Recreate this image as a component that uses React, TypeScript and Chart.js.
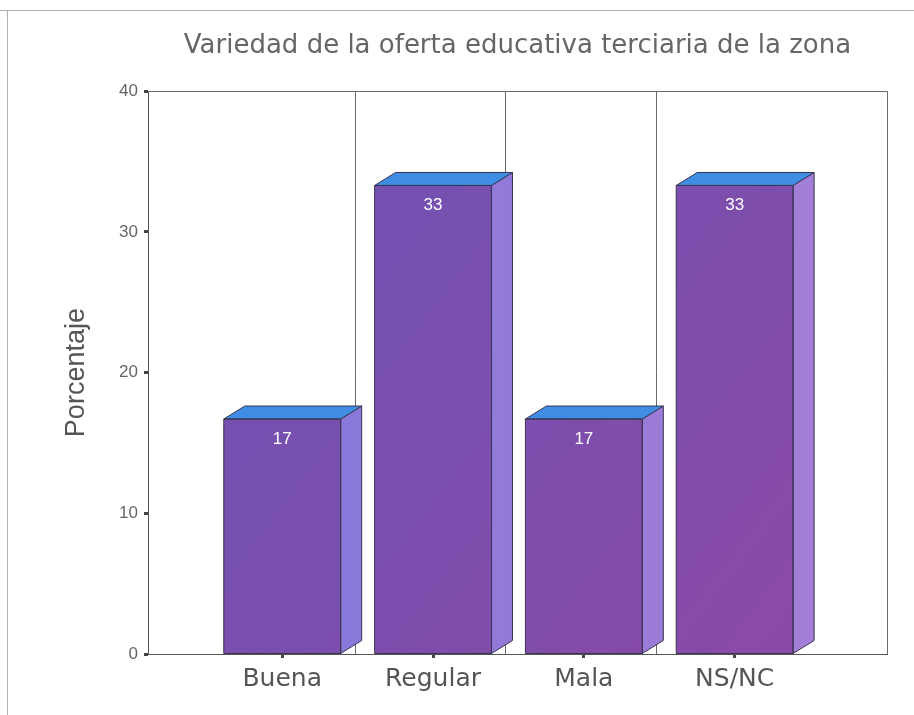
import React, { useEffect, useRef } from "react";
import { Chart, registerables } from "chart.js";

Chart.register(...registerables);

const categories = ["Buena", "Regular", "Mala", "NS/NC"];
const percentages = [16.7, 33.3, 16.7, 33.3];
const valueLabels = ["17", "33", "17", "33"];
const yTicks = [0, 10, 20, 30, 40];
const chartTitle = "Variedad de la oferta educativa terciaria de la zona";
const yTitle = "Porcentaje";

const VERDANA = "'DejaVu Sans', Verdana, sans-serif";
const ARIAL = "'Liberation Sans', Arial, sans-serif";

const DEPTH_X = 21;
const DEPTH_Y = 13;

function frontGradient(chart: any) {
  const { ctx, chartArea } = chart;
  if (!chartArea) return "#7a50ae";
  const g = ctx.createLinearGradient(chartArea.left, chartArea.top, chartArea.right, chartArea.bottom);
  g.addColorStop(0, "#6e52b4");
  g.addColorStop(0.5, "#7b4fae");
  g.addColorStop(1, "#8e48a6");
  return g;
}

const threeD = {
  id: "threeD",
  beforeDraw(chart: any) {
    const { ctx, width } = chart;
    ctx.save();
    ctx.strokeStyle = "#b0b0b0";
    ctx.lineWidth = 1;
    ctx.beginPath();
    ctx.moveTo(0, 10.5);
    ctx.lineTo(width, 10.5);
    ctx.moveTo(7.5, 10);
    ctx.lineTo(7.5, chart.height);
    ctx.stroke();
    ctx.restore();
  },
  beforeDatasetsDraw(chart: any) {
    const { ctx, chartArea, scales } = chart;
    const x = scales.x;
    ctx.save();
    ctx.strokeStyle = "#6a6a6a";
    ctx.lineWidth = 1;
    ctx.beginPath();
    ctx.moveTo(chartArea.left, Math.round(chartArea.top) + 0.5);
    ctx.lineTo(Math.round(chartArea.right) + 0.5, Math.round(chartArea.top) + 0.5);
    ctx.lineTo(Math.round(chartArea.right) + 0.5, chartArea.bottom);
    for (let i = 0; i < categories.length - 1; i++) {
      const px = Math.round(x.getPixelForValue(i + 0.48)) + 0.5;
      ctx.moveTo(px, chartArea.top);
      ctx.lineTo(px, chartArea.bottom);
    }
    ctx.stroke();
    ctx.restore();
  },
  afterDatasetsDraw(chart: any) {
    const { ctx, chartArea } = chart;
    const meta = chart.getDatasetMeta(0);
    const sideGrad = ctx.createLinearGradient(chartArea.left, 0, chartArea.right, 0);
    sideGrad.addColorStop(0, "#7e74dc");
    sideGrad.addColorStop(1, "#a880d6");
    meta.data.forEach((bar: any, i: number) => {
      const { x, y, base, width } = bar.getProps(["x", "y", "base", "width"], true);
      const l = x - width / 2;
      const r = x + width / 2;
      ctx.save();
      ctx.lineWidth = 1;
      ctx.strokeStyle = "#3a3450";
      ctx.lineJoin = "round";
      // side face
      ctx.beginPath();
      ctx.moveTo(r, y);
      ctx.lineTo(r + DEPTH_X, y - DEPTH_Y);
      ctx.lineTo(r + DEPTH_X, base - DEPTH_Y);
      ctx.lineTo(r, base);
      ctx.closePath();
      ctx.fillStyle = sideGrad;
      ctx.fill();
      ctx.stroke();
      // top face
      ctx.beginPath();
      ctx.moveTo(l, y);
      ctx.lineTo(l + DEPTH_X, y - DEPTH_Y);
      ctx.lineTo(r + DEPTH_X, y - DEPTH_Y);
      ctx.lineTo(r, y);
      ctx.closePath();
      ctx.fillStyle = "#3f8de4";
      ctx.fill();
      ctx.stroke();
      // front outline
      ctx.strokeRect(l, y, width, base - y);
      // value label
      ctx.fillStyle = "#ffffff";
      ctx.font = `17px ${ARIAL}`;
      ctx.textAlign = "center";
      ctx.textBaseline = "middle";
      ctx.fillText(valueLabels[i], x, y + 20);
      ctx.restore();
    });
  },
};

export default function App() {
  const ref = useRef<HTMLCanvasElement>(null);
  useEffect(() => {
    document.body.style.margin = "0";
    const canvas = ref.current;
    if (!canvas) return;
    const chart = new Chart(canvas, {
      type: "bar",
      data: {
        datasets: [
          {
            data: percentages.map((v, i) => ({ x: i, y: v })),
            backgroundColor: (c: any) => frontGradient(c.chart),
            borderWidth: 0,
            categoryPercentage: 1,
            barPercentage: 0.775,
          },
        ],
      },
      options: {
        animation: false,
        responsive: false,
        devicePixelRatio: 1,
        layout: { padding: { left: 0, right: 27, top: 0, bottom: 0 } },
        plugins: {
          legend: { display: false },
          tooltip: { enabled: false },
          title: {
            display: true,
            text: chartTitle,
            fullSize: false,
            color: "#666666",
            font: { family: VERDANA, size: 26, weight: "normal" },
            padding: { top: 31, bottom: 29 },
          },
        },
        scales: {
          x: {
            type: "linear",
            min: -0.89,
            max: 4.01,
            offset: false,
            afterBuildTicks: (axis: any) => {
              axis.ticks = categories.map((_, i) => ({ value: i }));
            },
            ticks: {
              autoSkip: false,
              maxRotation: 0,
              color: "#555555",
              font: { family: VERDANA, size: 25 },
              padding: 6,
              callback: (v: any) => categories[v] ?? "",
            },
            grid: {
              offset: false,
              drawOnChartArea: false,
              drawTicks: true,
              tickLength: 4,
              tickWidth: 3,
              tickColor: "#444444",
            },
            border: { color: "#555555", width: 1 },
            afterFit: (axis: any) => {
              axis.height = 61;
            },
          },
          y: {
            min: 0,
            max: 40,
            afterBuildTicks: (axis: any) => {
              axis.ticks = yTicks.map((v) => ({ value: v }));
            },
            ticks: {
              color: "#666666",
              font: { family: ARIAL, size: 17 },
              padding: 6,
            },
            grid: {
              drawOnChartArea: false,
              drawTicks: true,
              tickLength: 4,
              tickWidth: 3,
              tickColor: "#444444",
            },
            border: { color: "#555555", width: 1 },
            title: {
              display: true,
              text: yTitle,
              color: "#555555",
              font: { family: ARIAL, size: 27 },
              padding: { top: 60, bottom: 0 },
            },
            afterFit: (axis: any) => {
              axis.width = 148;
            },
          },
        },
      },
      plugins: [threeD],
    } as any);
    return () => chart.destroy();
  }, []);
  return (
    <div style={{ width: 914, height: 715, background: "#fff" }}>
      <canvas ref={ref} width={914} height={715} />
    </div>
  );
}
